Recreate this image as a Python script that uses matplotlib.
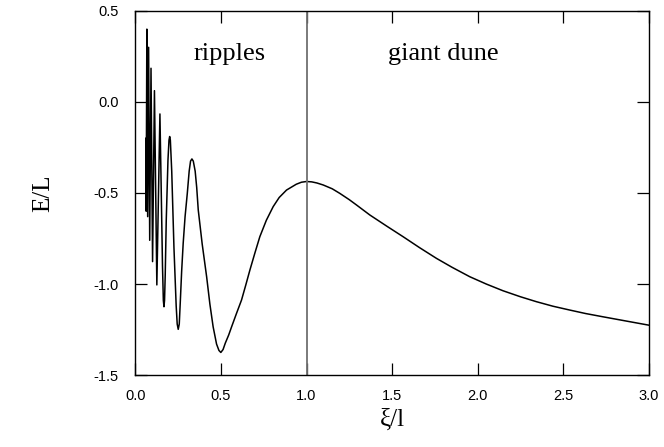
import matplotlib
matplotlib.use("Agg")
import matplotlib.pyplot as plt

# Curve: xi/l values and E/L values
xi = [0.061, 0.0625, 0.0667, 0.0714, 0.0769, 0.0833, 0.0909, 0.100, 0.111,
      0.125, 0.143, 0.150, 0.158, 0.163, 0.1667, 0.170, 0.174, 0.180, 0.190,
      0.196, 0.200, 0.204, 0.212, 0.225, 0.238, 0.244, 0.250, 0.256, 0.262,
      0.270, 0.279, 0.290, 0.303, 0.314, 0.322, 0.330, 0.338, 0.349, 0.358,
      0.367, 0.390, 0.416, 0.435, 0.454, 0.474, 0.488, 0.499, 0.512, 0.525,
      0.545, 0.562, 0.590, 0.620, 0.645, 0.669, 0.698, 0.727, 0.765, 0.805,
      0.840, 0.883, 0.940, 0.970, 1.000, 1.030, 1.060, 1.097, 1.150, 1.194,
      1.250, 1.292, 1.370, 1.470, 1.564, 1.660, 1.759, 1.850, 1.954, 2.050,
      2.148, 2.250, 2.343, 2.440, 2.538, 2.630, 2.732, 2.860, 3.000]
energy = [-0.20, -0.60, 0.40, -0.63, 0.30, -0.76, 0.185, -0.877, 0.062,
          -1.005, -0.066, -0.45, -0.90, -1.09, -1.125, -1.09, -0.95, -0.65, -0.32,
          -0.21, -0.19, -0.21, -0.38, -0.80, -1.12, -1.22, -1.249, -1.22, -1.10,
          -0.93, -0.776, -0.63, -0.502, -0.38, -0.325, -0.313, -0.325, -0.380, -0.47,
          -0.593, -0.78, -0.960, -1.11, -1.235, -1.33, -1.365, -1.376, -1.360, -1.325,
          -1.280, -1.235, -1.163, -1.088, -1.005, -0.923, -0.83, -0.740, -0.65, -0.575,
          -0.525, -0.484, -0.452, -0.441, -0.437, -0.439, -0.445, -0.456, -0.477, -0.502,
          -0.537, -0.566, -0.621, -0.683, -0.740, -0.800, -0.859, -0.908, -0.960, -1.000,
          -1.037, -1.070, -1.097, -1.122, -1.143, -1.162, -1.180, -1.202, -1.226]

divider_x = 1.0
region_labels = ["ripples", "giant dune"]
region_label_x = [0.552, 1.80]
region_label_y = 0.231

x_ticks = [0.0, 0.5, 1.0, 1.5, 2.0, 2.5, 3.0]
y_ticks = [0.5, 0.0, -0.5, -1.0, -1.5]

fig = plt.figure(figsize=(6.64, 4.47), dpi=100)
ax = fig.add_axes([0.204, 0.161, 0.773, 0.8146])

ax.plot(xi, energy, color="black", lw=1.1)
ax.axvline(divider_x, color="#707070", lw=1.3)

ax.set_xlim(0, 3.0)
ax.set_ylim(-1.5, 0.5)
ax.set_xticks(x_ticks)
ax.set_yticks(y_ticks)
ax.set_xticklabels([f"{v:.1f}" for v in x_ticks])
ax.set_yticklabels([f"{v:.1f}" for v in y_ticks])

ax.tick_params(direction="in", length=8.5, width=0.9, top=True, right=True,
               labelsize=10.5, colors="black")
ax.tick_params(axis="x", pad=10)
ax.tick_params(axis="y", pad=12)
for lbl in ax.get_xticklabels() + ax.get_yticklabels():
    lbl.set_family("Liberation Sans")
for s in ax.spines.values():
    s.set_linewidth(1.0)

for txt, tx in zip(region_labels, region_label_x):
    ax.text(tx, region_label_y, txt, ha="center", va="baseline",
            family="Liberation Serif", fontsize=19)

ax.set_xlabel("ξ/l", family="Liberation Serif", fontsize=18, labelpad=4)
ax.set_ylabel("E/L", family="Liberation Serif", fontsize=18, labelpad=28)

fig.savefig("out.png", dpi=100)
